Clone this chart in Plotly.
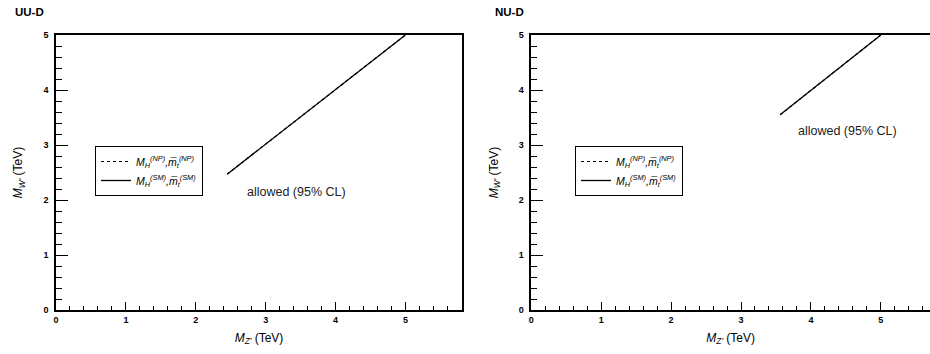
import plotly.graph_objects as go

# Data
mz_uu = [2.45, 5.0]
mw_uu = [2.47, 5.0]
mz_nu = [3.56, 5.0]
mw_nu = [3.55, 5.0]

panel_titles = ["UU-D", "NU-D"]
x_ticks = [0, 1, 2, 3, 4, 5]
y_ticks = [0, 1, 2, 3, 4, 5]
label_text = "allowed (95% CL)"
label_pos_uu = (3.44, 2.14)
label_pos_nu = (4.52, 3.26)

name_np = "<i>M</i><sub><i>H</i></sub><sup><i>(NP)</i></sup><i>,m̅</i><sub><i>t</i></sub><sup><i>(NP)</i></sup>"
name_sm = "<i>M</i><sub><i>H</i></sub><sup><i>(SM)</i></sup><i>,m̅</i><sub><i>t</i></sub><sup><i>(SM)</i></sup>"

FONT = "Liberation Sans, Arial, sans-serif"

fig = go.Figure()

for i, (mz, mw) in enumerate([(mz_uu, mw_uu), (mz_nu, mw_nu)]):
    xa = "x" if i == 0 else "x2"
    ya = "y" if i == 0 else "y2"
    lg = "legend" if i == 0 else "legend2"
    fig.add_trace(go.Scatter(x=mz, y=mw, mode="lines", name=name_np,
                             line=dict(color="black", width=1.2, dash="3px,3px"),
                             xaxis=xa, yaxis=ya, legend=lg, hoverinfo="skip"))
    fig.add_trace(go.Scatter(x=mz, y=mw, mode="lines", name=name_sm,
                             line=dict(color="black", width=1.3),
                             xaxis=xa, yaxis=ya, legend=lg, hoverinfo="skip"))

W, H = 930, 354
ML, MR, MT, MB = 56, 0, 35, 44
pw = W - ML - MR
ph = H - MT - MB
left_end = (462 - ML) / pw
right_start = (531.3 - ML) / pw


def px_x(px):
    return (px - ML) / pw


def px_y(py):
    return (H - MB - py) / ph


common_x = dict(
    showline=True, linecolor="black", linewidth=1.5, mirror=True,
    ticks="inside", ticklen=8, tickwidth=1, tickcolor="black",
    tickvals=x_ticks, showgrid=False, zeroline=False,
    tickfont=dict(family=FONT, size=9, color="black", weight="bold"),
    minor=dict(dtick=0.2, tick0=0, ticks="inside", ticklen=4, tickcolor="black", tickwidth=1, showgrid=False),
    title=dict(text="<i>M</i><sub><i>Z'</i></sub> (TeV)", font=dict(family=FONT, size=12, color="black"), standoff=10),
)
common_y = dict(
    showline=True, linecolor="black", linewidth=1.5,
    ticks="inside", ticklen=12, tickwidth=1, tickcolor="black",
    tickvals=y_ticks, range=[0, 5], showgrid=False, zeroline=False,
    tickfont=dict(family=FONT, size=9, color="black", weight="bold"),
    ticklabelstandoff=4,
    minor=dict(dtick=0.2, tick0=0, ticks="inside", ticklen=6, tickcolor="black", tickwidth=1, showgrid=False),
    title=dict(text="<i>M</i><sub><i>W'</i></sub> (TeV)", font=dict(family=FONT, size=12, color="black"), standoff=18),
)

legend_common = dict(xanchor="left", yanchor="top",
                     bordercolor="black", borderwidth=1, bgcolor="white",
                     font=dict(family=FONT, size=10.5, color="black"), itemwidth=30,
                     tracegroupgap=0)

fig.update_layout(
    width=W, height=H,
    margin=dict(l=ML, r=MR, t=MT, b=MB),
    paper_bgcolor="white", plot_bgcolor="white",
    font=dict(family=FONT, color="black"),
    xaxis=dict(common_x, domain=[0, left_end], range=[0, 5.81], anchor="y"),
    yaxis=dict(common_y, domain=[0, 1], anchor="x", mirror=True),
    xaxis2=dict(common_x, domain=[right_start, 1], range=[0, (930 - 531.3) / 69.9], anchor="y2"),
    yaxis2=dict(common_y, domain=[0, 1], anchor="x2", mirror=False),
    legend=dict(legend_common, x=px_x(95), y=px_y(146)),
    legend2=dict(legend_common, x=px_x(575), y=px_y(146)),
    showlegend=True,
)

fig.add_annotation(x=label_pos_uu[0], y=label_pos_uu[1], xref="x", yref="y", text=label_text,
                   showarrow=False, font=dict(family=FONT, size=12.5, color="#222"))
fig.add_annotation(x=label_pos_nu[0], y=label_pos_nu[1], xref="x2", yref="y2", text=label_text,
                   showarrow=False, font=dict(family=FONT, size=12.5, color="#222"))

fig.add_annotation(x=px_x(13), y=px_y(12), xref="paper", yref="paper", text="<b>" + panel_titles[0] + "</b>",
                   showarrow=False, xanchor="left", yanchor="middle",
                   font=dict(family=FONT, size=11.5, color="black"))
fig.add_annotation(x=px_x(493), y=px_y(12), xref="paper", yref="paper", text="<b>" + panel_titles[1] + "</b>",
                   showarrow=False, xanchor="left", yanchor="middle",
                   font=dict(family=FONT, size=11.5, color="black"))

fig.write_html("out.html")
